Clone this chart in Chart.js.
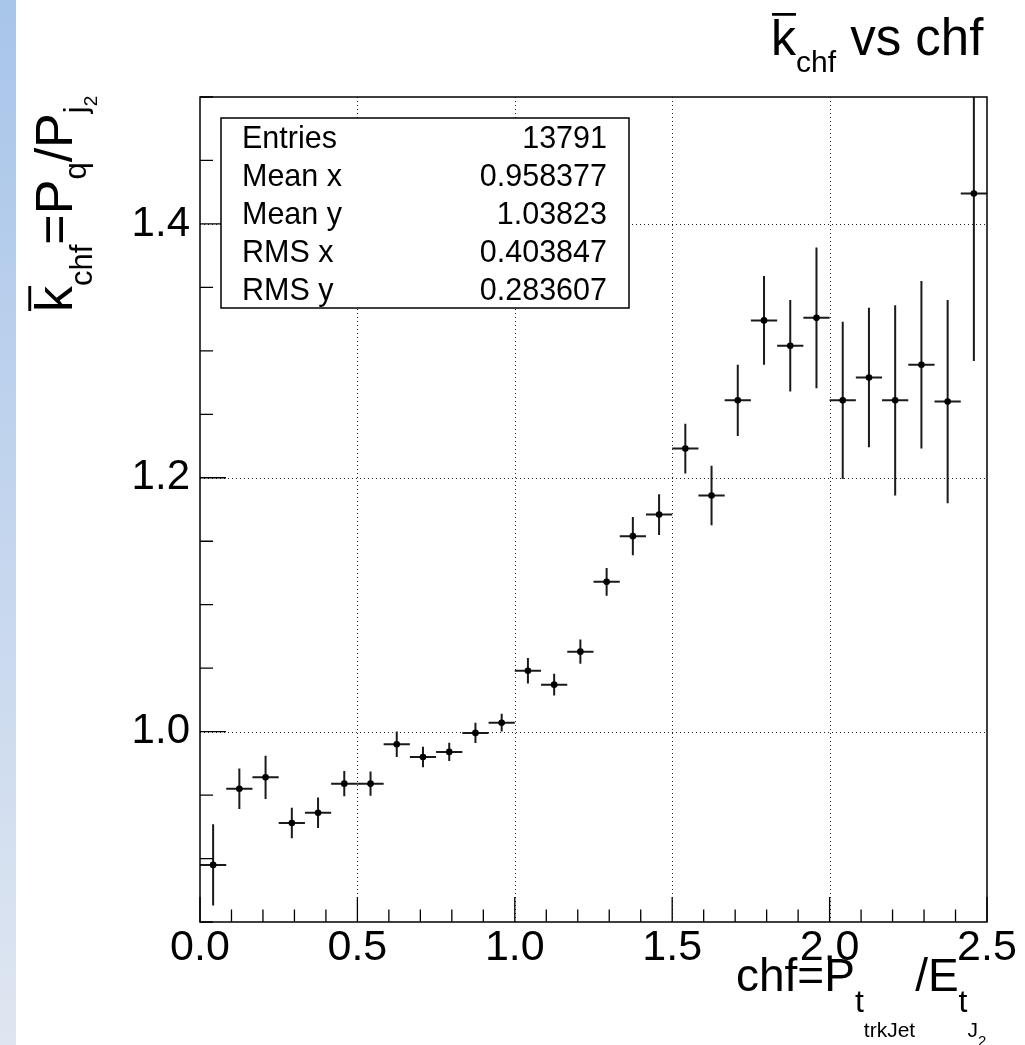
<!DOCTYPE html>
<html><head><meta charset="utf-8">
<script src="https://cdn.jsdelivr.net/npm/chart.js@4/dist/chart.umd.min.js"></script>
<style>
html,body{margin:0;padding:0;background:#fff;overflow:hidden;}
#wrap{position:relative;width:1025px;height:1045px;}
#strip{position:absolute;left:0;top:0;width:16px;height:1045px;background:linear-gradient(#a8c5ea,#dfe6f1);}
canvas{position:absolute;left:0;top:0;}
</style></head><body>
<div id="wrap"><div id="strip"></div><canvas id="c" width="1025" height="1045"></canvas></div>
<script>
// ---- data ----
const binCenters = [0.0417,0.125,0.2083,0.2917,0.375,0.4583,0.5417,0.625,0.7083,0.7917,
                    0.875,0.9583,1.0417,1.125,1.2083,1.2917,1.375,1.4583,1.5417,1.625,
                    1.7083,1.7917,1.875,1.9583,2.0417,2.125,2.2083,2.2917,2.375,2.4583];
const meanValues = [0.895,0.955,0.964,0.928,0.936,0.959,0.959,0.990,0.980,0.984,
                    0.999,1.007,1.048,1.037,1.063,1.118,1.154,1.171,1.223,1.186,
                    1.261,1.324,1.304,1.326,1.261,1.279,1.261,1.289,1.260,1.424];
const meanErrors = [0.032,0.016,0.017,0.012,0.012,0.010,0.0095,0.010,0.008,0.0072,
                    0.008,0.007,0.010,0.0085,0.0096,0.011,0.015,0.016,0.0196,0.0234,
                    0.028,0.035,0.036,0.0555,0.062,0.055,0.075,0.066,0.080,0.132];
const binWidth = 0.08333;
const xTickLabels = ['0.0','0.5','1.0','1.5','2.0','2.5'];
const yTickLabels = ['1.0','1.2','1.4'];
const statNames = ['Entries','Mean x','Mean y','RMS x','RMS y'];
const statValues = ['13791','0.958377','1.03823','0.403847','0.283607'];

const FAM = '"Liberation Sans", Arial, Helvetica, sans-serif';

function drawRich(ctx, segs, x, y) {
  let cx = x;
  for (const s of segs) {
    ctx.font = s.size + 'px ' + FAM;
    const w = ctx.measureText(s.t).width;
    ctx.fillText(s.t, cx, y + (s.dy || 0));
    if (s.bar) ctx.fillRect(cx + 1, y - s.size * 0.84, w - 1, Math.max(2, s.size * 0.055));
    cx += w;
  }
}

function labelFor(list, v) {
  const f = list.find(l => Math.abs(parseFloat(l) - v) < 1e-6);
  return f === undefined ? '' : f;
}

const rootPlugin = {
  id: 'rootStyle',
  beforeDatasetsDraw(chart) {
    const {ctx, chartArea: a, scales: {x, y}} = chart;
    ctx.save();
    ctx.strokeStyle = '#222';
    ctx.lineWidth = 1;
    ctx.setLineDash([1, 3]);
    xTickLabels.forEach(l => {
      const v = parseFloat(l);
      const px = Math.round(x.getPixelForValue(v)) + 0.5;
      if (px <= a.left + 2 || px >= a.right - 2) return;
      ctx.beginPath(); ctx.moveTo(px, a.top); ctx.lineTo(px, a.bottom); ctx.stroke();
    });
    yTickLabels.forEach(l => {
      const v = parseFloat(l);
      const py = Math.round(y.getPixelForValue(v)) + 0.5;
      ctx.beginPath(); ctx.moveTo(a.left, py); ctx.lineTo(a.right, py); ctx.stroke();
    });
    ctx.setLineDash([]);
    ctx.beginPath(); ctx.rect(a.left, a.top, a.right - a.left, a.bottom - a.top); ctx.clip();
    ctx.strokeStyle = '#1a1a1a';
    ctx.lineWidth = 2;
    for (let i = 0; i < binCenters.length; i++) {
      const c = binCenters[i], v = meanValues[i], e = meanErrors[i];
      const px = x.getPixelForValue(c), py = y.getPixelForValue(v);
      ctx.beginPath();
      ctx.moveTo(x.getPixelForValue(c - binWidth / 2), py);
      ctx.lineTo(x.getPixelForValue(c + binWidth / 2), py);
      ctx.moveTo(px, y.getPixelForValue(v + e));
      ctx.lineTo(px, y.getPixelForValue(v - e));
      ctx.stroke();
    }
    ctx.restore();
  },
  afterDatasetsDraw(chart) {
    const {ctx, chartArea: a, scales: {x, y}} = chart;
    ctx.save();
    ctx.strokeStyle = '#000';
    ctx.lineWidth = 1.5;
    ctx.strokeRect(a.left, a.top, a.right - a.left, a.bottom - a.top);
    ctx.lineWidth = 1.3;
    ctx.beginPath();
    x.ticks.forEach(t => {
      const px = x.getPixelForValue(t.value);
      const major = labelFor(xTickLabels, t.value) !== '';
      ctx.moveTo(px, a.bottom); ctx.lineTo(px, a.bottom - (major ? 25 : 12.5));
    });
    y.ticks.forEach(t => {
      const py = y.getPixelForValue(t.value);
      const major = labelFor(yTickLabels, t.value) !== '';
      ctx.moveTo(a.left, py); ctx.lineTo(a.left + (major ? 26 : 13), py);
    });
    ctx.stroke();
    // stats box
    const bx = 221, by = 118, bw = 408, bh = 190;
    ctx.fillStyle = '#fff';
    ctx.fillRect(bx, by, bw, bh);
    ctx.lineWidth = 1.5;
    ctx.strokeStyle = '#000';
    ctx.strokeRect(bx, by, bw, bh);
    ctx.fillStyle = '#000';
    ctx.font = '30.5px ' + FAM;
    ctx.textBaseline = 'alphabetic';
    const rh = bh / statNames.length;
    statNames.forEach((n, i) => {
      const base = by + rh * (i + 0.5) + 11;
      ctx.textAlign = 'left'; ctx.fillText(n, 242, base);
      ctx.textAlign = 'right'; ctx.fillText(statValues[i], 607, base);
    });
    ctx.textAlign = 'left';
    // title
    drawRich(ctx, [{t:'k',size:50,bar:true},{t:'chf',size:30,dy:17},{t:' vs chf',size:51}], 771, 55);
    // x axis title
    drawRich(ctx, [{t:'chf=P',size:46},{t:'t',size:32,dy:21},{t:'trkJet',size:21,dy:46},
                   {t:'/E',size:46},{t:'t',size:32,dy:21},{t:'J',size:21,dy:46},{t:'2',size:15,dy:55}], 736, 991);
    // y axis title (rotated)
    ctx.save();
    ctx.translate(72, 312);
    ctx.rotate(-Math.PI / 2);
    drawRich(ctx, [{t:'k',size:52,bar:true},{t:'chf',size:31,dy:20},{t:'=P',size:52},{t:'q',size:31,dy:14},
                   {t:'/P',size:52},{t:'j',size:31,dy:14},{t:'2',size:19,dy:25}], 0, 0);
    ctx.restore();
    ctx.restore();
  }
};

new Chart(document.getElementById('c'), {
  type: 'scatter',
  data: {
    datasets: [{
      data: binCenters.map((c, i) => ({x: c, y: meanValues[i]})),
      pointRadius: 3.3,
      pointHoverRadius: 3.3,
      backgroundColor: '#000',
      borderWidth: 0
    }]
  },
  options: {
    responsive: false,
    animation: false,
    events: [],
    layout: {padding: {left: 0, right: 38, top: 97, bottom: 0}},
    plugins: {legend: {display: false}, tooltip: {enabled: false}, title: {display: false}},
    scales: {
      x: {
        type: 'linear', min: 0, max: 2.5,
        afterFit(s) { s.height = 123; },
        border: {display: false},
        grid: {display: false, drawTicks: false, tickLength: 0},
        ticks: {stepSize: 0.1, maxTicksLimit: 100, autoSkip: false, maxRotation: 0, minRotation: 0,
                padding: 0, color: '#000', font: {family: FAM, size: 43}},
      },
      y: {
        type: 'linear', min: 0.85, max: 1.5,
        afterFit(s) { s.width = 200; },
        border: {display: false},
        grid: {display: false, drawTicks: false, tickLength: 0},
        ticks: {stepSize: 0.05, maxTicksLimit: 100, autoSkip: false, padding: 10,
                color: '#000', font: {family: FAM, size: 42}}
      }
    }
  },
  plugins: [rootPlugin]
});
// tick label callbacks (from the label arrays)
const ch = Chart.getChart('c');
ch.options.scales.x.ticks.callback = v => labelFor(xTickLabels, v);
ch.options.scales.y.ticks.callback = v => labelFor(yTickLabels, v);
ch.update();
</script>
</body></html>
